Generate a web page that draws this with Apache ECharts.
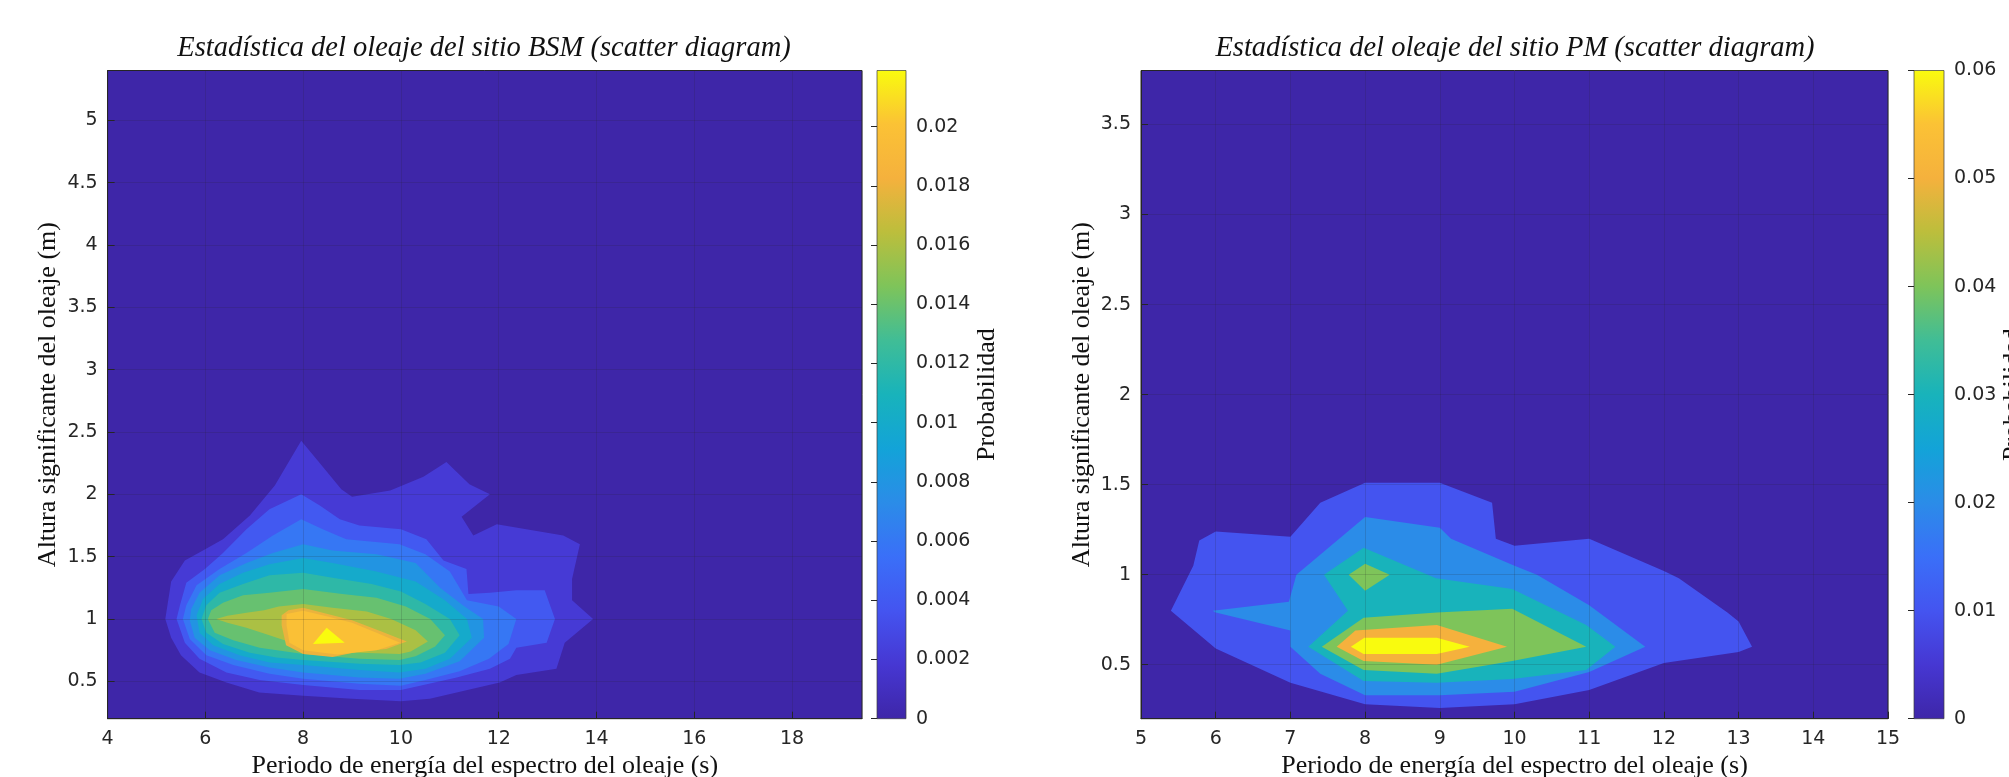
<!DOCTYPE html>
<html><head><meta charset="utf-8">
<script src="https://cdn.jsdelivr.net/npm/echarts@6/dist/echarts.min.js"></script>
<style>html,body{margin:0;padding:0;background:#fff}#c{width:2009px;height:777px}</style>
</head><body><div id="c"></div>
<script>
// ---------------- DATA ----------------
// Left chart (site BSM): contour levels (probability) and the filled-contour boundary of each level, [Tp (s), Hs (m)]
const bsmLevels = [0.002, 0.004, 0.006, 0.008, 0.010, 0.012, 0.014, 0.016, 0.018, 0.020, 0.022];
const bsmColorMax = 0.022;
const bsmC1 = [[5.18,1.0],[5.3,1.3],[5.58,1.47],[5.95,1.55],[6.36,1.64],[6.91,1.83],[7.42,2.07],[7.96,2.43],[8.3,2.27],[8.78,2.04],[9.0,1.98],[9.78,2.03],[10.46,2.14],[10.93,2.26],[11.4,2.08],[11.82,2.0],[11.24,1.82],[11.48,1.67],[11.96,1.76],[13.32,1.67],[13.66,1.6],[13.5,1.32],[13.5,1.15],[13.93,1.0],[13.35,0.81],[13.18,0.6],[12.36,0.55],[12.02,0.49],[11.14,0.41],[10.59,0.36],[10,0.34],[9,0.36],[8,0.385],[7.1,0.41],[6.43,0.49],[5.88,0.57],[5.5,0.71],[5.3,0.85]];
const bsmC2 = [[7.96,2.0],[8.34,1.91],[8.75,1.80],[9.15,1.75],[10,1.72],[10.52,1.64],[10.87,1.47],[11.34,1.4],[11.38,1.2],[11.82,1.21],[12.36,1.23],[12.94,1.23],[13.15,1.0],[12.98,0.81],[12.36,0.77],[12.23,0.68],[11.82,0.60],[11.14,0.53],[10.46,0.47],[10,0.43],[9.15,0.43],[8.0,0.47],[7.11,0.51],[6.43,0.57],[5.88,0.68],[5.58,0.81],[5.41,1.0],[5.48,1.11],[5.61,1.29],[5.99,1.40],[6.36,1.53],[6.84,1.72],[7.31,1.88]];
const bsmC3 = [[7.96,1.80],[8.4,1.72],[8.88,1.64],[9.97,1.60],[10.5,1.52],[11.0,1.38],[11.35,1.15],[12.0,1.1],[12.36,1.0],[12.2,0.8],[11.8,0.68],[11.2,0.58],[10.5,0.51],[10,0.465],[9.15,0.48],[8.0,0.52],[7.31,0.56],[6.57,0.63],[6.02,0.71],[5.68,0.84],[5.54,1.0],[5.61,1.11],[5.82,1.27],[6.29,1.40],[6.84,1.53],[7.38,1.67]];
const bsmC4 = [[8.0,1.60],[8.6,1.55],[9.5,1.52],[10.3,1.45],[10.8,1.25],[11.3,1.1],[11.68,1.0],[11.7,0.85],[11.2,0.66],[10.5,0.56],[9.97,0.52],[9.15,0.53],[8.0,0.57],[7.31,0.61],[6.63,0.67],[6.09,0.75],[5.78,0.85],[5.68,0.99],[5.71,1.08],[5.88,1.21],[6.29,1.35],[6.84,1.45],[7.38,1.53]];
const bsmC5 = [[8.0,1.49],[8.6,1.45],[9.5,1.38],[10.3,1.3],[10.9,1.15],[11.35,1.0],[11.45,0.85],[11.0,0.68],[10.5,0.6],[9.97,0.57],[9.15,0.59],[8.0,0.63],[7.31,0.65],[6.70,0.71],[6.16,0.79],[5.88,0.89],[5.82,1.03],[5.95,1.16],[6.29,1.28],[6.77,1.37],[7.31,1.44]];
const bsmC6 = [[8.0,1.37],[8.6,1.33],[9.4,1.28],[10.0,1.22],[10.5,1.12],[11.0,1.0],[11.2,0.87],[10.9,0.73],[10.4,0.65],[9.97,0.63],[9.15,0.64],[8.0,0.67],[7.45,0.69],[6.91,0.73],[6.36,0.80],[6.02,0.89],[5.92,1.0],[6.02,1.11],[6.29,1.21],[6.77,1.28],[7.31,1.35]];
const bsmC7 = [[8.0,1.24],[8.8,1.2],[9.5,1.17],[10.1,1.1],[10.6,1.0],[10.9,0.87],[10.7,0.78],[10.3,0.7],[9.97,0.67],[9.15,0.68],[8.0,0.72],[7.11,0.77],[6.57,0.83],[6.19,0.89],[6.05,1.0],[6.12,1.07],[6.36,1.13],[6.77,1.19],[7.31,1.21]];
const bsmC8 = [[8.0,1.12],[8.6,1.09],[9.3,1.06],[9.8,1.0],[10.3,0.91],[10.55,0.82],[10.2,0.74],[9.97,0.72],[9.15,0.73],[8.0,0.78],[7.31,0.87],[6.84,0.93],[6.45,0.97],[6.22,1.0],[6.45,1.025],[6.84,1.05],[7.2,1.07],[7.5,1.1]];
const bsmC9 = [[7.56,1.03],[7.7,1.07],[8.0,1.09],[8.5,1.04],[9.0,0.99],[9.6,0.9],[10.12,0.82],[9.7,0.76],[9.15,0.74],[8.6,0.695],[8.0,0.72],[7.65,0.79],[7.56,0.95]];
const bsmC10 = [[7.66,1.04],[8.0,1.065],[8.5,1.02],[9.0,0.97],[9.5,0.89],[9.98,0.81],[9.5,0.75],[8.7,0.715],[8.0,0.75],[7.72,0.81],[7.66,0.95]];
const bsmC11 = [[8.48,0.93],[8.85,0.81],[8.2,0.8]];

// Right chart (site PM)
const pmLevels = [0.01, 0.02, 0.03, 0.04, 0.04, 0.05, 0.06];
const pmColorMax = 0.06;
const pmC1 = [[5.4,0.8],[5.7,1.05],[5.78,1.19],[6,1.24],[7,1.21],[7.4,1.4],[8,1.51],[9,1.51],[9.7,1.4],[9.75,1.2],[10,1.16],[11,1.2],[12,1.02],[12.2,0.98],[12.85,0.79],[13,0.74],[13.18,0.6],[13,0.57],[12,0.51],[11,0.36],[10,0.28],[9,0.26],[8,0.28],[7,0.4],[6,0.59]];
const pmC2 = [[5.96,0.8],[6.98,0.85],[7.08,1.0],[8,1.32],[9,1.26],[9.15,1.2],[10,1.05],[10.3,1.0],[11,0.83],[11.75,0.6],[11,0.46],[10,0.35],[9,0.33],[8,0.33],[7.4,0.45],[7,0.6],[7,0.69],[6,0.79]];
const pmC3 = [[7.45,1.0],[7.98,1.15],[8.95,0.98],[9.97,0.92],[10.96,0.72],[11.35,0.6],[10.96,0.47],[9.97,0.42],[8.96,0.40],[7.98,0.41],[7.24,0.6],[7.77,0.8]];
const pmC4 = [[7.42,0.6],[7.98,0.76],[8.96,0.79],[9.97,0.81],[10.96,0.6],[9.97,0.52],[8.96,0.45],[7.98,0.47]];
const pmC4b = [[7.78,1.0],[8.0,1.06],[8.33,1.0],[8.0,0.91]];
const pmC5 = [[7.62,0.6],[7.87,0.69],[8.96,0.72],[9.9,0.6],[8.96,0.5],[7.98,0.52]];
const pmC6 = [[7.81,0.6],[7.99,0.65],[8.96,0.65],[9.4,0.6],[8.96,0.56],[7.98,0.56]];

// Axis ranges
const bsmX = [4, 19.43], bsmY = [0.2, 5.4];
const pmX = [5, 15], pmY = [0.2, 3.8];

// ---------------- STYLE ----------------
const parulaHex = ['#3e26a8','#4637d2','#4454f0','#3a6ff8','#2b8ce8','#13a3d8','#18b3bb','#40bd96','#7ec45a','#bcbe3c','#f5b13d','#fbc235','#f9fb0e'];
function parula(t) {
  t = Math.max(0, Math.min(1, t));
  const n = parulaHex.length - 1;
  const f = t * n, i = Math.min(n - 1, Math.floor(f)), u = f - i;
  return echarts.color.lerp(u, [parulaHex[i], parulaHex[i + 1]]);
}
const bsmContours = [bsmC1,bsmC2,bsmC3,bsmC4,bsmC5,bsmC6,bsmC7,bsmC8,bsmC9,bsmC10,bsmC11];
const pmContours = [pmC1,pmC2,pmC3,pmC4,pmC4b,pmC5,pmC6];

const TICK_FONT = {fontFamily: 'DejaVu Sans', fontSize: 19, color: '#262626'};
const NAME_FONT = {fontFamily: 'Liberation Serif', fontSize: 26, color: '#111'};
const TITLE_FONT = {fontFamily: 'Liberation Serif', fontStyle: 'italic', fontWeight: 'normal', fontSize: 28.5, color: '#111'};
const gridLine = {show: true, lineStyle: {color: 'rgba(38,38,38,0.16)', width: 1}};
const axisLine = {show: true, onZero: false, lineStyle: {color: '#262626', width: 1}};
const tick = {show: true, inside: true, length: 7, lineStyle: {color: '#262626'}};

const TOP = 70.5, H = 648.2;

function contourSeries(idx, contours, levels, cmax) {
  return {
    type: 'custom', xAxisIndex: idx, yAxisIndex: idx, clip: true, silent: true, z: 2,
    data: contours.map((c, i) => ({value: [i]})),
    renderItem: function (params, api) {
      const i = params.dataIndex;
      const pts = contours[i].map(p => api.coord(p));
      return {type: 'polygon', shape: {points: pts}, style: {fill: parula(levels[i] / cmax)}};
    }
  };
}
function colorbarSeries(idx, cmax) {
  return {
    type: 'custom', xAxisIndex: idx, yAxisIndex: idx, clip: false, silent: true, z: 2,
    data: [{value: [0]}],
    renderItem: function (params, api) {
      const p0 = api.coord([0, 0]), p1 = api.coord([1, cmax]);
      return {type: 'rect', shape: {x: p0[0], y: p1[1], width: p1[0] - p0[0], height: p0[1] - p1[1]},
        style: {fill: {type: 'linear', x: 0, y: 1, x2: 0, y2: 0,
          colorStops: parulaHex.map((c, i) => ({offset: i / (parulaHex.length - 1), color: c}))},
          stroke: 'rgba(60,60,60,0.7)', lineWidth: 1}};
    }
  };
}

const gridBase = {outerBoundsMode: 'none', containLabel: false};
const chart = echarts.init(document.getElementById('c'), null, {renderer: 'canvas'});
chart.setOption({
  animation: false,
  backgroundColor: '#ffffff',
  title: [
    {text: 'Estadística del oleaje del sitio BSM (scatter diagram)', left: 479, top: 29, textAlign: 'center', textStyle: TITLE_FONT},
    {text: 'Estadística del oleaje del sitio PM (scatter diagram)', left: 1510, top: 29, textAlign: 'center', textStyle: TITLE_FONT}
  ],
  grid: [
    Object.assign({left: 107.6, top: TOP, width: 754.4, height: H, show: true, backgroundColor: parulaHex[0], borderColor: '#262626', borderWidth: 1}, gridBase),
    Object.assign({left: 877, top: TOP, width: 29, height: H, show: false}, gridBase),
    Object.assign({left: 1141, top: TOP, width: 747, height: H, show: true, backgroundColor: parulaHex[0], borderColor: '#262626', borderWidth: 1}, gridBase),
    Object.assign({left: 1914, top: TOP, width: 30, height: H, show: false}, gridBase)
  ],
  xAxis: [
    {gridIndex: 0, type: 'value', min: bsmX[0], max: bsmX[1], interval: 2, z: 5,
     axisLine: axisLine, axisTick: tick, splitLine: gridLine,
     axisLabel: Object.assign({margin: 11, showMaxLabel: false}, TICK_FONT),
     name: 'Periodo de energía del espectro del oleaje (s)', nameLocation: 'middle', nameGap: 34, nameTextStyle: NAME_FONT},
    {gridIndex: 1, type: 'value', min: 0, max: 1, show: false},
    {gridIndex: 2, type: 'value', min: pmX[0], max: pmX[1], interval: 1, z: 5,
     axisLine: axisLine, axisTick: tick, splitLine: gridLine,
     axisLabel: Object.assign({margin: 11}, TICK_FONT),
     name: 'Periodo de energía del espectro del oleaje (s)', nameLocation: 'middle', nameGap: 34, nameTextStyle: NAME_FONT},
    {gridIndex: 3, type: 'value', min: 0, max: 1, show: false}
  ],
  yAxis: [
    {gridIndex: 0, type: 'value', min: bsmY[0], max: bsmY[1], splitNumber: 10, z: 5,
     axisLine: axisLine, axisTick: tick, splitLine: gridLine,
     axisLabel: Object.assign({margin: 10, showMinLabel: false, showMaxLabel: false}, TICK_FONT),
     name: 'Altura significante del oleaje (m)', nameLocation: 'middle', nameGap: 46, nameTextStyle: NAME_FONT},
    {gridIndex: 1, type: 'value', position: 'right', min: 0, max: 0.0219, interval: 0.002, z: 5,
     axisLine: {show: false}, axisTick: {show: true, inside: true, length: 6, lineStyle: {color: '#262626'}}, splitLine: {show: false},
     axisLabel: Object.assign({margin: 10, showMaxLabel: false}, TICK_FONT),
     name: 'Probabilidad', nameLocation: 'middle', nameGap: 66, nameTextStyle: NAME_FONT},
    {gridIndex: 2, type: 'value', min: pmY[0], max: pmY[1], splitNumber: 7, z: 5,
     axisLine: axisLine, axisTick: tick, splitLine: gridLine,
     axisLabel: Object.assign({margin: 10, showMinLabel: false, showMaxLabel: false}, TICK_FONT),
     name: 'Altura significante del oleaje (m)', nameLocation: 'middle', nameGap: 46, nameTextStyle: NAME_FONT},
    {gridIndex: 3, type: 'value', position: 'right', min: 0, max: pmColorMax, interval: 0.01, z: 5,
     axisLine: {show: false}, axisTick: {show: true, inside: true, length: 6, lineStyle: {color: '#262626'}}, splitLine: {show: false},
     axisLabel: Object.assign({margin: 10}, TICK_FONT),
     name: 'Probabilidad', nameLocation: 'middle', nameGap: 54, nameTextStyle: NAME_FONT}
  ],
  series: [
    contourSeries(0, bsmContours, bsmLevels, bsmColorMax),
    colorbarSeries(1, 0.0219),
    contourSeries(2, pmContours, pmLevels, pmColorMax),
    colorbarSeries(3, pmColorMax)
  ]
});
</script>
</body></html>
